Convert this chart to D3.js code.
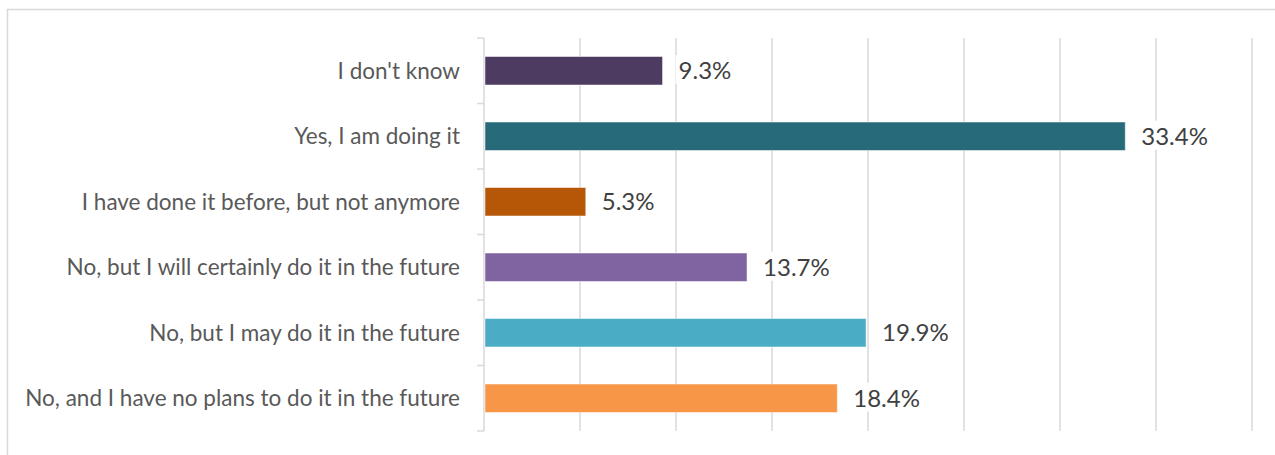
<!DOCTYPE html>
<html>
<head>
<meta charset="utf-8">
<script src="https://cdn.jsdelivr.net/npm/d3@7"></script>
<style>
  html, body { margin: 0; padding: 0; background: #fff; }
  svg { display: block; }
</style>
</head>
<body>
<svg id="chart" width="1275" height="455"></svg>
<script>
// Survey answers, top to bottom
const categories = [
  "I don't know",
  "Yes, I am doing it",
  "I have done it before, but not anymore",
  "No, but I will certainly do it in the future",
  "No, but I may do it in the future",
  "No, and I have no plans to do it in the future"
];
const shares = [9.3, 33.4, 5.3, 13.7, 19.9, 18.4];
const barColors = ["#4e3b62", "#276a7a", "#b65708", "#8064a2", "#4bacc6", "#f79646"];
const xTicks = [0, 5, 10, 15, 20, 25, 30, 35, 40];

const svg = d3.select("#chart");
const W = 1275, H = 455;
const margin = { top: 38, right: 23, bottom: 24, left: 484 };

// outer frame
svg.append("rect")
  .attr("x", 7.5).attr("y", 9.5)
  .attr("width", W + 10).attr("height", H + 10)
  .attr("fill", "none").attr("stroke", "#d9d9d9").attr("stroke-width", 1.5);

const x = d3.scaleLinear().domain([0, 40]).range([margin.left, W - margin.right]);
const y = d3.scaleBand().domain(categories)
  .range([margin.top, H - margin.bottom])
  .paddingInner(0.565).paddingOuter(0.2825);

// vertical gridlines
svg.append("g")
  .selectAll("line")
  .data(xTicks.slice(1))
  .join("line")
  .attr("x1", d => x(d)).attr("x2", d => x(d))
  .attr("y1", margin.top).attr("y2", H - margin.bottom)
  .attr("stroke", "#d9d9d9").attr("stroke-width", 1.5);

// category axis: line, tick marks at the band boundaries, labels
const yAxisScale = d3.scaleBand().domain(categories).range([margin.top, H - margin.bottom]);
const axisG = svg.append("g").attr("transform", `translate(${margin.left},0)`);
axisG.append("line")
  .attr("x1", 0).attr("x2", 0)
  .attr("y1", margin.top).attr("y2", H - margin.bottom)
  .attr("stroke", "#d9d9d9").attr("stroke-width", 1.5);
const bounds = categories.map(c => yAxisScale(c)).concat([H - margin.bottom]);
axisG.selectAll("line.tick")
  .data(bounds)
  .join("line")
  .attr("class", "tick")
  .attr("x1", -7).attr("x2", 0)
  .attr("y1", d => d).attr("y2", d => d)
  .attr("stroke", "#d9d9d9").attr("stroke-width", 1.5);
axisG.selectAll("text")
  .data(categories)
  .join("text")
  .attr("x", -24)
  .attr("y", d => y(d) + y.bandwidth() / 2)
  .attr("dy", "0.35em")
  .attr("text-anchor", "end")
  .attr("fill", "#595959")
  .style("font-family", "Lato, 'Noto Sans', sans-serif")
  .style("font-size", "22.5px")
  .text(d => d);

// bars
svg.append("g")
  .selectAll("rect")
  .data(categories)
  .join("rect")
  .attr("x", x(0) + 1)
  .attr("y", d => y(d))
  .attr("width", (d, i) => x(shares[i]) - x(0) - 1)
  .attr("height", y.bandwidth())
  .attr("fill", (d, i) => barColors[i])
  .attr("stroke", "#ffffff").attr("stroke-opacity", 0.5).attr("stroke-width", 1);

// value labels on white backgrounds
const labels = svg.append("g")
  .selectAll("g")
  .data(categories)
  .join("g")
  .attr("transform", (d, i) => `translate(${x(shares[i]) + 16},${y(d) + y.bandwidth() / 2})`);
labels.append("text")
  .attr("dy", "0.35em")
  .attr("fill", "#404040")
  .style("font-family", "Lato, 'Noto Sans', sans-serif")
  .style("font-size", "24px")
  .text((d, i) => shares[i].toFixed(1) + "%");
labels.each(function () {
  const t = d3.select(this).select("text");
  const b = t.node().getBBox();
  d3.select(this).insert("rect", "text")
    .attr("x", b.x - 3).attr("y", b.y)
    .attr("width", b.width + 6).attr("height", b.height)
    .attr("fill", "#ffffff");
});
</script>
</body>
</html>
